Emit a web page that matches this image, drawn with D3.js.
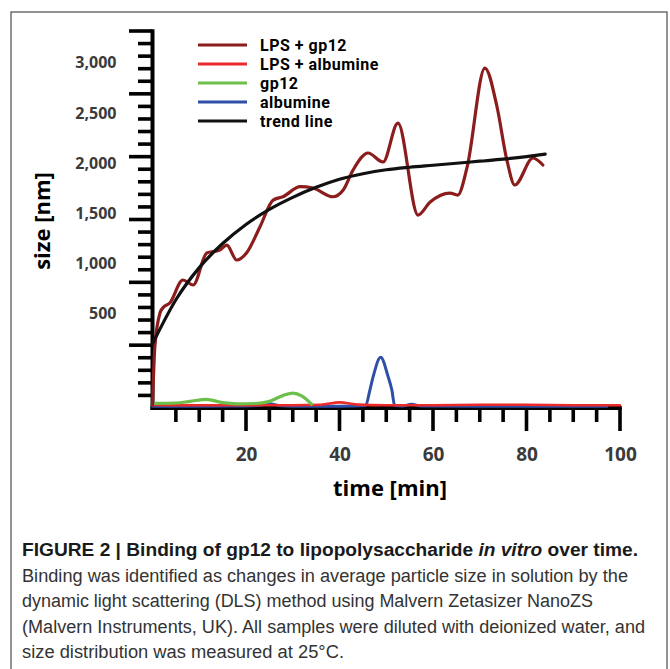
<!DOCTYPE html>
<html>
<head>
<meta charset="utf-8">
<title>gp12 LPS binding</title>
<style>
    body{ margin:0; background:#fff; }
    svg text{ font-family:"Open Sans", "DejaVu Sans", sans-serif; }
    .cap{ font-family:"Liberation Sans", Arial, sans-serif !important; }
    .leg{ font-family:Roboto, "Open Sans", sans-serif !important; }
</style>
</head>
<body>
<div id="chart"></div>

<script src="https://cdn.jsdelivr.net/npm/d3@7"></script>
<script>

// ---- data (time in min, size in nm) ----
var lpsGp12T = [0, 0.5, 1.6, 2.2, 3.7, 6.5, 8.7, 11.6, 14.4, 15.9, 18.0, 20.1, 23.0, 25.8, 27.9, 31.6, 34.3, 38.6, 40.8, 42.9, 46.1, 49.3, 52.5, 56.8, 59.4, 63.6, 65.3, 67.3, 71.1, 73.7, 75.8, 77.5, 81.4, 83.5];
var lpsGp12V = [-408, 169, 508, 558, 608, 837, 787, 1106, 1135, 1185, 1036, 1106, 1368, 1633, 1666, 1766, 1753, 1666, 1733, 1932, 2102, 2012, 2400, 1484, 1614, 1703, 1683, 1962, 2948, 2560, 2032, 1783, 2052, 1982];

var lpsAlbT = [0, 10, 20, 30, 36, 40, 44, 50, 60, 70, 80, 90, 100];
var lpsAlbV = [-408, -410, -410, -410, -406, -382, -404, -410, -410, -406, -406, -410, -410];

var gp12T = [0, 5, 8, 11.5, 15, 18, 22, 25, 28, 30, 32, 34];
var gp12V = [-392, -388, -372, -352, -385, -396, -393, -372, -312, -290, -320, -400];

var albT = [0, 10, 20, 23, 25, 27, 30, 40, 45.6, 46.5, 47.2, 48.8, 50.4, 51.2, 51.8, 53.5, 55.4, 57.5, 70, 85, 97.2];
var albV = [-420, -420, -418, -410, -396, -412, -420, -420, -414, -259, -126, 67, -126, -259, -414, -418, -400, -418, -420, -420, -420];

var trendT = [0, 5, 10, 15, 20, 25, 30, 35, 40, 45, 50, 55, 60, 65, 70, 75, 80, 84];
var trendV = [200, 640, 960, 1200, 1390, 1540, 1660, 1760, 1840, 1895, 1935, 1960, 1980, 2000, 2020, 2040, 2065, 2090];

var yLabels = [500, 1000, 1500, 2000, 2500, 3000];
var xLabels = [20, 40, 60, 80, 100];

var seriesNames  = ["LPS + gp12", "LPS + albumine", "gp12", "albumine", "trend line"];
var seriesColors = ["#8c1d1d", "#ec2a2a", "#6cc04a", "#2f4fa6", "#111111"];

var captionHead = ["FIGURE 2 | Binding of gp12 to lipopolysaccharide ", "in vitro", " over time."];
var captionLines = [
    "Binding was identified as changes in average particle size in solution by the",
    "dynamic light scattering (DLS) method using Malvern Zetasizer NanoZS",
    "(Malvern Instruments, UK). All samples were diluted with deionized water, and",
    "size distribution was measured at 25°C."
];
var captionWidths = [606, 571, 623, 322];

var width = 670, height = 669;

var svg = d3.select('#chart').append('svg')
    .attr('width', width)
    .attr('height', height);

// frame round the whole figure
svg.append('rect')
    .attr('x', 11).attr('y', 12)
    .attr('width', 656).attr('height', 680)
    .attr('fill', '#fff')
    .attr('stroke', '#4a4a4a')
    .attr('stroke-width', 1.2);

/*-----------------------------------------------------------------------
    scales
-----------------------------------------------------------------------*/
var xScale = d3.scaleLinear().domain([0, 100]).range([152.5, 620]);
var yScale = d3.scaleLinear().domain([-438, 3317]).range([408, 31]);
// the printed axis has 30 evenly spaced ticks that do not line up with the labels
var tickScale = d3.scaleLinear().domain([0, 30]).range([408, 31]);

/*-----------------------------------------------------------------------
    axes
-----------------------------------------------------------------------*/
var axisG = svg.append('g');

axisG.selectAll('line.ytick')
    .data(d3.range(1, 31))
    .enter().append('line')
    .attr('class', 'ytick')
    .attr('x1', d => d % 5 === 0 ? 129 : 138)
    .attr('x2', 152)
    .attr('y1', d => tickScale(d))
    .attr('y2', d => tickScale(d))
    .attr('stroke', '#000')
    .attr('stroke-width', 3.6);

axisG.selectAll('line.xtick')
    .data(d3.range(5, 101, 5))
    .enter().append('line')
    .attr('class', 'xtick')
    .attr('x1', d => xScale(d))
    .attr('x2', d => xScale(d))
    .attr('y1', 408)
    .attr('y2', d => d % 20 === 0 ? 431 : 422)
    .attr('stroke', '#000')
    .attr('stroke-width', 3.6);

axisG.append('line')
    .attr('x1', xScale(0)).attr('x2', xScale(0))
    .attr('y1', tickScale(30) - 1.8).attr('y2', 410)
    .attr('stroke', '#000').attr('stroke-width', 4);

axisG.append('line')
    .attr('x1', xScale(0) - 2).attr('x2', xScale(100) + 1.8)
    .attr('y1', 408).attr('y2', 408)
    .attr('stroke', '#000').attr('stroke-width', 4);

// tick labels
var yAxis = svg.append('g')
    .attr('transform', 'translate(' + xScale(0) + ',0)')
    .call(d3.axisLeft(yScale).tickValues(yLabels).tickSize(0).tickPadding(36).tickFormat(d3.format(',')));
yAxis.select('.domain').remove();
yAxis.selectAll('text')
    .style('font-family', '"Open Sans", sans-serif')
    .style('font-size', '16px')
    .style('font-weight', 'bold')
    .attr('fill', '#3a3a3a');

var xAxis = svg.append('g')
    .attr('transform', 'translate(0,408)')
    .call(d3.axisBottom(xScale).tickValues(xLabels).tickSize(0).tickPadding(40));
xAxis.select('.domain').remove();
xAxis.selectAll('text')
    .style('font-family', '"Open Sans", sans-serif')
    .style('font-size', '19px')
    .style('font-weight', 'bold')
    .attr('fill', '#3a3a3a');

svg.append('text')
    .attr('x', 390).attr('y', 496)
    .attr('text-anchor', 'middle')
    .style('font-size', '22px').style('font-weight', 'bold')
    .text('time [min]');

svg.append('text')
    .attr('transform', 'translate(50,221) rotate(-90)')
    .attr('text-anchor', 'middle')
    .style('font-size', '22px').style('font-weight', 'bold')
    .text('size [nm]');

/*-----------------------------------------------------------------------
    lines
-----------------------------------------------------------------------*/
var line = d3.line()
    .x(d => xScale(d[0]))
    .y(d => yScale(d[1]))
    .curve(d3.curveMonotoneX);

function pairs(t, v){ return t.map((d, i) => [d, v[i]]); }

var series = [
    {data: pairs(albT, albV), color: seriesColors[3], w: 3},
    {data: pairs(lpsAlbT, lpsAlbV), color: seriesColors[1], w: 2.6},
    {data: pairs(gp12T, gp12V), color: seriesColors[2], w: 3.2},
    {data: pairs(lpsGp12T, lpsGp12V), color: seriesColors[0], w: 3.2},
    {data: pairs(trendT, trendV), color: seriesColors[4], w: 3.2}
];

svg.append('g').selectAll('path')
    .data(series)
    .enter().append('path')
    .attr('d', d => line(d.data))
    .attr('fill', 'none')
    .attr('stroke', d => d.color)
    .attr('stroke-width', d => d.w)
    .attr('stroke-linejoin', 'round')
    .attr('stroke-linecap', 'round');

/*-----------------------------------------------------------------------
    legend
-----------------------------------------------------------------------*/
var legY = d3.scalePoint().domain(seriesNames).range([45, 121]);
var leg = svg.append('g').selectAll('g')
    .data(seriesNames)
    .enter().append('g')
    .attr('transform', d => 'translate(198,' + legY(d) + ')');

leg.append('line')
    .attr('x1', 0).attr('x2', 49)
    .attr('stroke', (d, i) => seriesColors[i])
    .attr('stroke-width', 2.8);

leg.append('text')
    .attr('class', 'leg')
    .attr('x', 62).attr('dy', '0.35em')
    .style('font-size', '16px').style('font-weight', 'bold')
    .style('letter-spacing', '0.5px')
    .text(d => d);

/*-----------------------------------------------------------------------
    caption
-----------------------------------------------------------------------*/
var head = svg.append('text')
    .attr('class', 'cap')
    .attr('x', 22).attr('y', 556)
    .attr('textLength', 616).attr('lengthAdjust', 'spacingAndGlyphs')
    .style('font-size', '18px').style('font-weight', 'bold')
    .attr('fill', '#1a1a1a');
head.selectAll('tspan')
    .data(captionHead)
    .enter().append('tspan')
    .attr('class', 'cap')
    .style('font-style', (d, i) => i === 1 ? 'italic' : 'normal')
    .text(d => d);

svg.selectAll('text.capline')
    .data(captionLines)
    .enter().append('text')
    .attr('class', 'cap capline')
    .attr('x', 22)
    .attr('y', (d, i) => 582 + i * 25.3)
    .attr('textLength', (d, i) => captionWidths[i])
    .attr('lengthAdjust', 'spacingAndGlyphs')
    .style('font-size', '18px')
    .attr('fill', '#333')
    .text(d => d);

</script>
</body>
</html>
